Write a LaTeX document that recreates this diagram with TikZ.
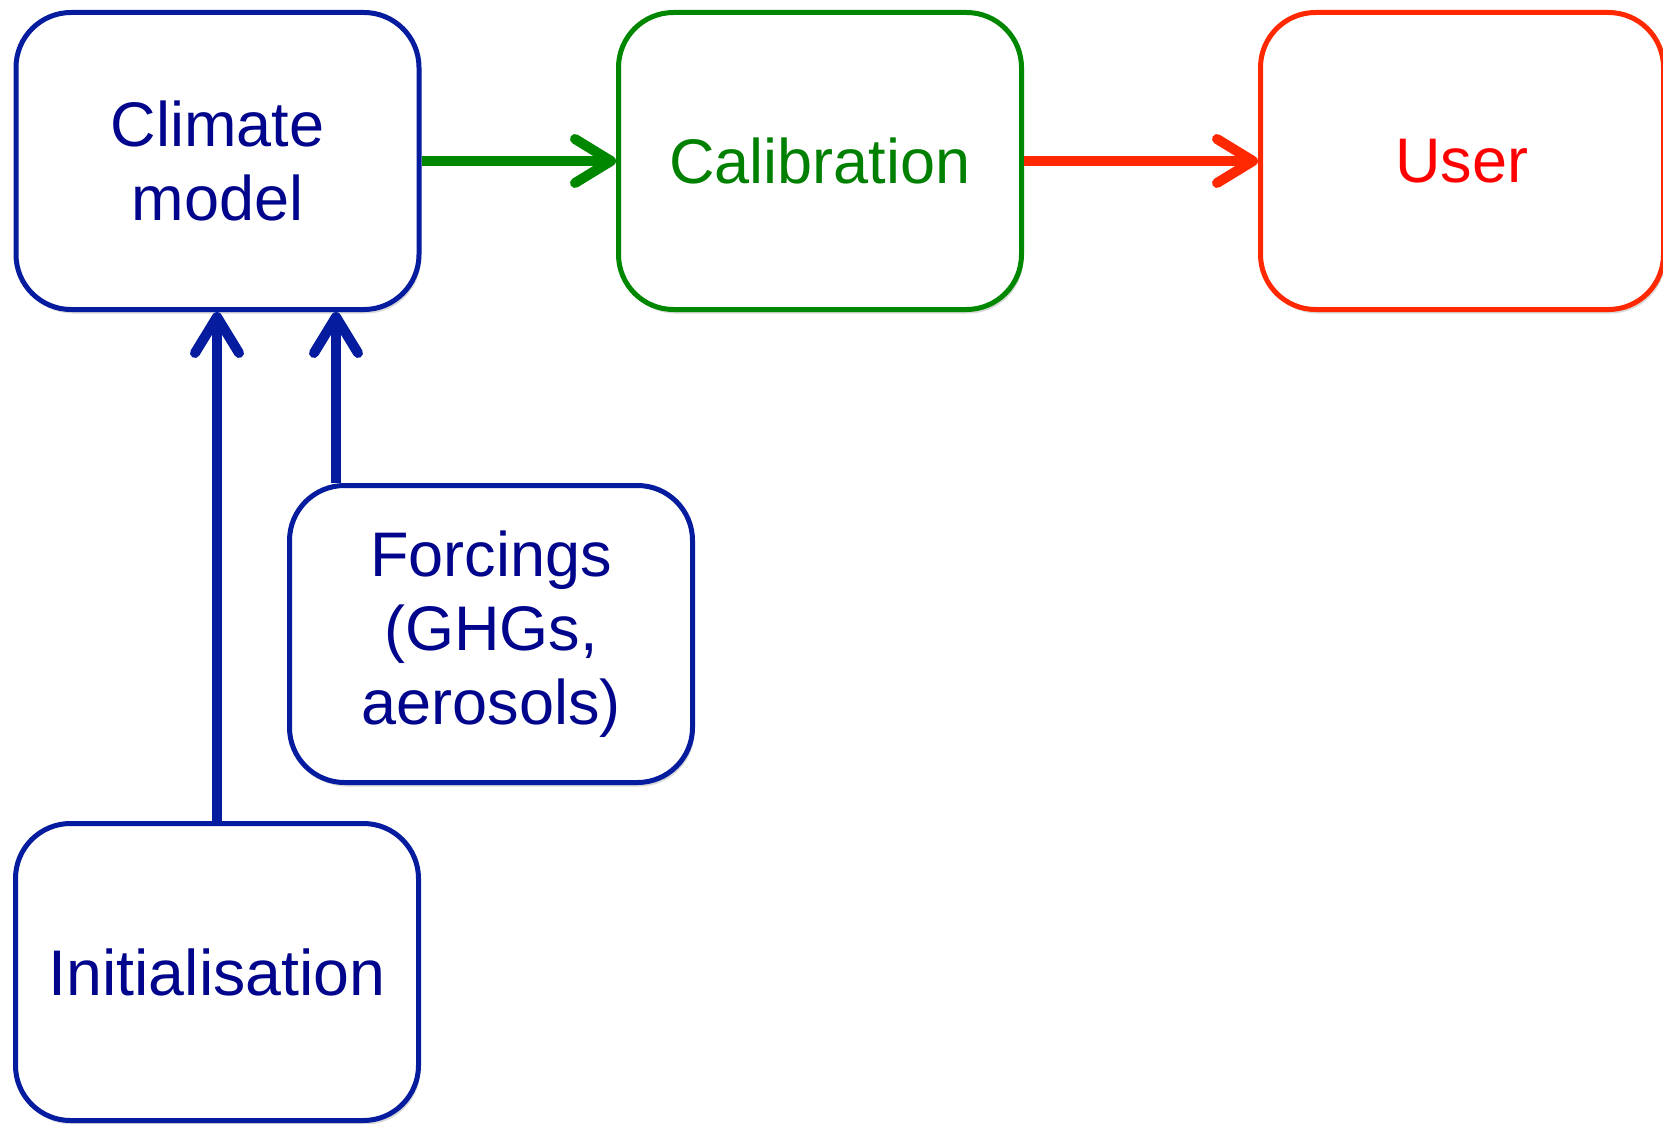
\documentclass[tikz,border=0pt]{standalone}
\usepackage{fontspec}
\setmainfont{Liberation Sans}
\usetikzlibrary{arrows.meta,shadows}
\definecolor{lblue}{RGB}{5,28,158}
\definecolor{tblue}{RGB}{0,5,140}
\definecolor{lgreen}{RGB}{0,135,0}
\definecolor{tgreen}{RGB}{0,128,0}
\definecolor{lred}{RGB}{255,40,0}
\definecolor{tred}{RGB}{255,0,0}
\tikzset{
  box/.style={draw, line width=5pt, rounded corners=55pt, fill=white,
    minimum width=403pt, minimum height=297pt, align=center, inner sep=0pt,
    font=\fontsize{63}{74}\selectfont,
    drop shadow={opacity=0.3, shadow xshift=2pt, shadow yshift=-4pt}},
  bluebox/.style={box, draw=lblue, text=tblue},
  conn/.style={line width=10pt, -{Straight Barb[length=36pt, width=44pt, round]}},
}
\begin{document}
\begin{tikzpicture}[x=1pt,y=1pt]
\useasboundingbox (0,0) rectangle (1663,-1124);
\node[bluebox] (climate) at (217.5,-161) {Climate\\model};
\node[box, draw=lgreen, text=tgreen] (calib) at (820,-161) {Calibration};
\node[box, draw=lred, text=tred] (user) at (1462,-161) {User};
\node[bluebox] (forc) at (491,-634) {Forcings\\(GHGs,\\aerosols)};
\node[bluebox, font=\fontsize{64.5}{74}\selectfont] (init) at (217,-972) {Initialisation};
\coordinate (fx) at (336,0);
\draw[conn, lblue] (init.north) -- (init.north |- climate.south);
\draw[conn, lblue] (forc.north -| fx) -- (fx |- climate.south);
\draw[conn, lgreen] (climate.east) -- (calib.west);
\draw[conn, lred] (calib.east) -- (user.west);
\end{tikzpicture}
\end{document}
